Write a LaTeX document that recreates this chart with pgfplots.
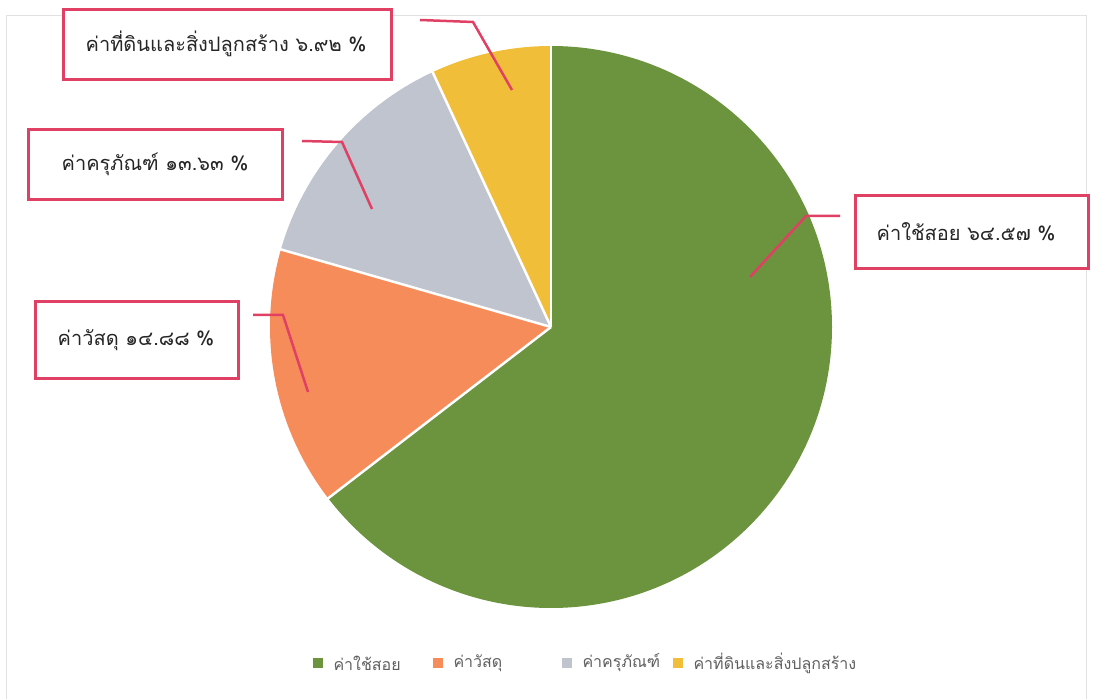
\documentclass[border=0pt]{standalone}
\usepackage{fontspec}
\newfontfamily\thaifont[Script=Thai]{Loma}
\usepackage{pgfplots}
\pgfplotsset{compat=1.18}
\definecolor{cGreen}{RGB}{108,148,62}
\definecolor{cOrange}{RGB}{246,140,90}
\definecolor{cGrey}{RGB}{192,196,206}
\definecolor{cYellow}{RGB}{241,190,58}
\definecolor{cPink}{RGB}{224,64,100}
\definecolor{cFrame}{RGB}{225,225,228}
\definecolor{cLeg}{RGB}{95,95,95}
% slice values (percent)
\def\vA{64.57}\def\vB{14.88}\def\vC{13.63}\def\vD{6.92}
\pgfmathsetmacro\aA{90}
\pgfmathsetmacro\aB{\aA-3.6*\vA}
\pgfmathsetmacro\aC{\aB-3.6*\vB}
\pgfmathsetmacro\aD{\aC-3.6*\vC}
\pgfmathsetmacro\aE{\aD-3.6*\vD}
\newcommand\slice[3]{\fill[#1] (axis cs:551,372) -- +(#2:281pt) arc[start angle=#2, end angle=#3, radius=281pt] -- cycle;}
\newcommand\sep[1]{\draw[white, line width=2.5pt] (axis cs:551,372) -- +(#1:282pt);}
\begin{document}
\begin{tikzpicture}
\begin{axis}[
  at={(0,0)}, anchor=south west,
  width=1093pt, height=699pt, scale only axis,
  xmin=0, xmax=1093, ymin=0, ymax=699,
  axis lines=none, clip=false,
]
% frame
\draw[cFrame, line width=1pt] (axis cs:6,0) -- (axis cs:6,683) -- (axis cs:1086,683) -- (axis cs:1086,0);
% pie
\slice{cGreen}{\aA}{\aB}
\slice{cOrange}{\aB}{\aC}
\slice{cGrey}{\aC}{\aD}
\slice{cYellow}{\aD}{\aE}
\sep{\aA}\sep{\aB}\sep{\aC}\sep{\aD}
% leader lines
\draw[cPink, line width=2.5pt] (axis cs:420,679) -- (axis cs:473,677) -- (axis cs:512,609);
\draw[cPink, line width=2.5pt] (axis cs:302,558) -- (axis cs:342,557) -- (axis cs:372,490);
\draw[cPink, line width=2.5pt] (axis cs:253,384) -- (axis cs:283,384) -- (axis cs:308,307);
\draw[cPink, line width=2.5pt] (axis cs:840,483) -- (axis cs:806,483) -- (axis cs:750,422);
% label boxes
\draw[cPink, line width=3pt, fill=white] (axis cs:63,619) rectangle (axis cs:391,689);
\node[font=\thaifont\fontsize{20}{24}\selectfont, text=black!85] at (axis cs:226,655) {ค่าที่ดินและสิ่งปลูกสร้าง ๖.๙๒ \%};
\draw[cPink, line width=3pt, fill=white] (axis cs:28,499) rectangle (axis cs:282,569);
\node[font=\thaifont\fontsize{20}{24}\selectfont, text=black!85] at (axis cs:155,535) {ค่าครุภัณฑ์ ๑๓.๖๓ \%};
\draw[cPink, line width=3pt, fill=white] (axis cs:35,320) rectangle (axis cs:238,397);
\node[font=\thaifont\fontsize{20}{24}\selectfont, text=black!85] at (axis cs:136,359) {ค่าวัสดุ ๑๔.๘๘ \%};
\draw[cPink, line width=3pt, fill=white] (axis cs:855,430) rectangle (axis cs:1088,503);
\node[font=\thaifont\fontsize{20}{24}\selectfont, text=black!85] at (axis cs:966,467) {ค่าใช้สอย ๖๔.๕๗ \%};
% legend
\fill[cGreen]  (axis cs:313,31) rectangle (axis cs:323,41);
\node[anchor=west, font=\thaifont\fontsize{16}{19}\selectfont, text=cLeg] at (axis cs:330,36) {ค่าใช้สอย};
\fill[cOrange] (axis cs:433,31) rectangle (axis cs:443,41);
\node[anchor=west, font=\thaifont\fontsize{16}{19}\selectfont, text=cLeg] at (axis cs:450,36) {ค่าวัสดุ};
\fill[cGrey]   (axis cs:562,31) rectangle (axis cs:572,41);
\node[anchor=west, font=\thaifont\fontsize{16}{19}\selectfont, text=cLeg] at (axis cs:579,36) {ค่าครุภัณฑ์};
\fill[cYellow] (axis cs:673,31) rectangle (axis cs:683,41);
\node[anchor=west, font=\thaifont\fontsize{16}{19}\selectfont, text=cLeg] at (axis cs:690,36) {ค่าที่ดินและสิ่งปลูกสร้าง};
\end{axis}
\useasboundingbox (0,0) rectangle (1093pt,699pt);
\end{tikzpicture}
\end{document}
